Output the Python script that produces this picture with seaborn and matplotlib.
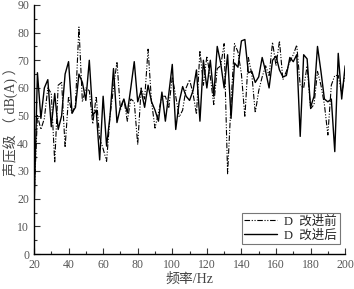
import numpy as np
import pandas as pd
import seaborn as sns
from matplotlib import pyplot as plt
from matplotlib.ticker import MultipleLocator

# frequency axis, 20..200 Hz every 2 Hz
freq = list(range(20, 201, 2))

# D before improvement (dash-dot-dot line)
before = [19.5, 50, 45, 49, 60, 58, 33, 61, 62, 38.5,
          57, 50.5, 54, 82, 55, 60, 59, 47, 57, 42,
          38, 33.5, 50, 60, 69.5, 52, 56, 48, 56, 55,
          39.5, 60, 56, 74, 55, 45.5, 51, 57, 57, 53,
          64, 57, 49.5, 52, 60, 63, 58, 50.5, 73.5, 61,
          71.5, 64, 54, 67, 68, 76, 29, 55, 76, 73,
          65, 49.5, 71, 65, 51, 59, 64, 68, 64.5, 76.5,
          68, 77, 63, 66, 69.5, 72, 75.5, 61, 60, 68,
          52.5, 54, 66, 61, 54, 43, 61, 64.5, 64.5, 58,
          65]

# D after improvement (solid line)
after = [14.8, 65.5, 49, 60, 63, 46, 58, 45, 50, 65,
         69.5, 51, 53, 65, 62, 55.5, 70, 50, 52, 34,
         57, 39, 50, 67, 47.5, 53, 56, 51, 60, 69.5,
         55, 59, 53, 61, 55, 52, 48, 58.5, 48, 58,
         68.5, 45, 55, 60.5, 57, 55.5, 59, 66.5, 48, 70,
         60, 70, 57, 75, 69, 60, 72, 49, 69, 67.5,
         77, 77.5, 65.5, 66, 62, 64, 71, 66, 60, 70,
         71.5, 66.5, 64, 64.5, 71, 69.5, 72, 42.5, 72, 70.5,
         53, 57, 75, 66, 56, 55, 56, 37, 72.5, 56,
         68]

labels = ["D  改进前", "D  改进后"]

sns.set_style("ticks")
plt.rcParams["font.family"] = ["Liberation Serif", "Noto Sans CJK SC"]
plt.rcParams["axes.unicode_minus"] = False

fig = plt.figure(figsize=(3.54, 2.89), dpi=100)
ax = fig.add_axes([0.096, 0.121, 0.879, 0.862])

sns.lineplot(x=freq, y=before, ax=ax, color="black", linewidth=0.8,
             linestyle=(0, (5, 1.5, 1, 1.5, 1, 1.5)), label=labels[0])
sns.lineplot(x=freq, y=after, ax=ax, color="black", linewidth=1.0,
             linestyle="-", label=labels[1])

ax.set_xlim(20, 200)
ax.set_ylim(0, 90)
ax.xaxis.set_major_locator(MultipleLocator(20))
ax.xaxis.set_minor_locator(MultipleLocator(10))
ax.yaxis.set_major_locator(MultipleLocator(10))
ax.yaxis.set_minor_locator(MultipleLocator(5))
ax.tick_params(which="major", direction="in", length=4, width=0.8,
               labelsize=8.5, colors="#333333", labelcolor="#555555")
ax.tick_params(which="minor", direction="in", length=2, width=0.8, colors="#333333")

for side in ["top", "right"]:
    ax.spines[side].set_visible(False)
for side in ["left", "bottom"]:
    ax.spines[side].set_linewidth(1.0)
    ax.spines[side].set_color("black")

ax.set_xlabel("频率/Hz", fontsize=10, color="#444444", labelpad=1)
ax.set_ylabel("声压级 （ dB(A) ）", fontsize=10, color="#444444")
ax.yaxis.set_label_coords(-0.052, 0.545)

leg = ax.legend(loc="lower right", bbox_to_anchor=(0.99, 0.03), fontsize=9,
                frameon=True, fancybox=False, handlelength=2.6,
                borderpad=0.2, labelspacing=0.15, handletextpad=0.6,
                borderaxespad=0.2)
leg.get_frame().set_edgecolor("#555555")
leg.get_frame().set_linewidth(0.8)

fig.savefig("out.png", dpi=100)
